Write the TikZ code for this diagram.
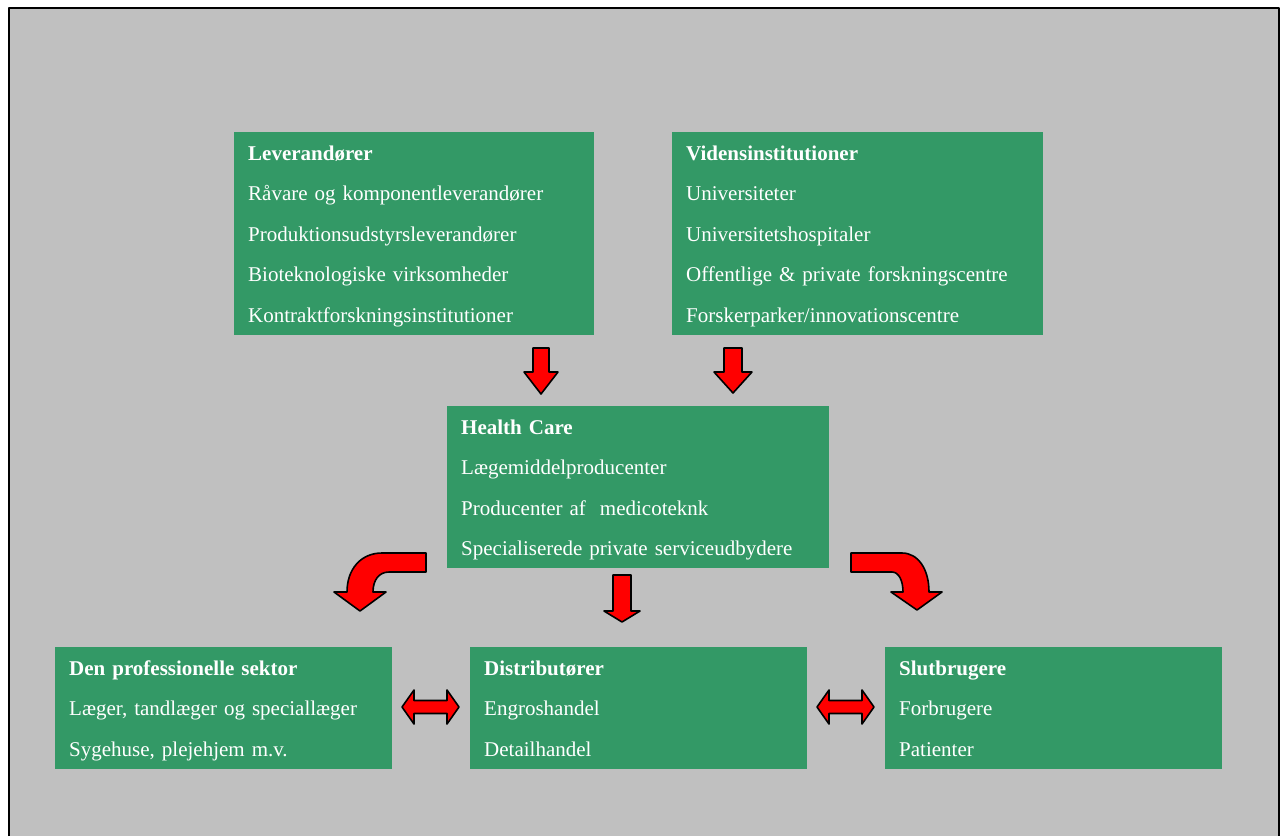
\documentclass[tikz,border=0pt]{standalone}
\usepackage{fontspec}
\setmainfont{Liberation Serif}
\usepackage{tikz}

\definecolor{boxgreen}{HTML}{339966}
\definecolor{bggray}{HTML}{C0C0C0}

% first line / last line struts for the boxes
\newcommand{\firstln}{\rule{0pt}{28pt}}
\newcommand{\lastln}{\rule[-12.5pt]{0pt}{12.5pt}}

\begin{document}
\begin{tikzpicture}[
  x=1pt, y=-1pt,
  line join=round,
  blockarrow/.style={fill=red, draw=black, line width=1.6pt},
  every node/.style={font=\fontsize{21}{40.5}\selectfont}
]
  \tikzstyle{box}=[fill=boxgreen, text=white, anchor=north west, align=left, inner xsep=14pt, inner ysep=0pt]

  \useasboundingbox (0,0) rectangle (1285,836);

  % Background frame
  \fill[bggray] (9,8) rectangle (1279,836);
  \draw[line width=1.6pt] (9,836) -- (9,8) -- (1279,8) -- (1279,836);

  % Top row
  \node[box, text width=332pt] (lev) at (234,132) {\firstln\textbf{Leverandører}\\
    Råvare og komponentleverandører\\
    Produktionsudstyrsleverandører\\
    Bioteknologiske virksomheder\\
    Kontraktforskningsinstitutioner\lastln};
  \node[box, text width=343pt] (vid) at (672,132) {\firstln\textbf{Vidensinstitutioner}\\
    Universiteter\\
    Universitetshospitaler\\
    Offentlige \& private forskningscentre\\
    Forskerparker/innovationscentre\lastln};

  % Middle
  \node[box, text width=354pt] (hc) at (447,406) {\firstln\textbf{Health Care}\\
    Lægemiddelproducenter\\
    Producenter af\ \ medicoteknk\\
    Specialiserede private serviceudbydere\lastln};

  % Bottom row
  \node[box, text width=309pt] (prof) at (55,647) {\firstln\textbf{Den professionelle sektor}\\
    Læger, tandlæger og speciallæger\\
    Sygehuse, plejehjem m.v.\lastln};
  \node[box, text width=309pt] (dist) at (470,647) {\firstln\textbf{Distributører}\\
    Engroshandel\\
    Detailhandel\lastln};
  \node[box, text width=309pt] (slut) at (885,647) {\firstln\textbf{Slutbrugere}\\
    Forbrugere\\
    Patienter\lastln};

  % --- Arrows ---
  % into Health Care
  \filldraw[blockarrow] (533,348) -- (549,348) -- (549,372) -- (558,372) -- (541,394)
    -- (524,372) -- (533,372) -- cycle;
  \filldraw[blockarrow] (724,348) -- (742,348) -- (742,372) -- (752,372) -- (733,393)
    -- (714,372) -- (724,372) -- cycle;

  % out of Health Care
  \filldraw[blockarrow] (426,553) -- (382,553) .. controls (361,553) and (347,569) .. (347,592)
    -- (334,592) -- (360,611) -- (386,592) -- (373,592)
    .. controls (373,580) and (379,572) .. (389,572) -- (426,572) -- cycle;
  \filldraw[blockarrow] (613,575) -- (631,575) -- (631,611) -- (640,611) -- (622,622)
    -- (604,611) -- (613,611) -- cycle;
  \filldraw[blockarrow] (851,553) -- (902,553) .. controls (918,553) and (929,569) .. (929,592)
    -- (942,592) -- (917,610) -- (891,592) -- (903,592)
    .. controls (903,581) and (899,572) .. (892,572) -- (851,572) -- cycle;

  % between the bottom boxes
  \filldraw[blockarrow] (402,707) -- (414,690) -- (414,700.5) -- (447,700.5) -- (447,690)
    -- (459,707) -- (447,724) -- (447,713.5) -- (414,713.5) -- (414,724) -- cycle;
  \filldraw[blockarrow] (817,707) -- (829,690) -- (829,700.5) -- (862,700.5) -- (862,690)
    -- (874,707) -- (862,724) -- (862,713.5) -- (829,713.5) -- (829,724) -- cycle;
\end{tikzpicture}
\end{document}
